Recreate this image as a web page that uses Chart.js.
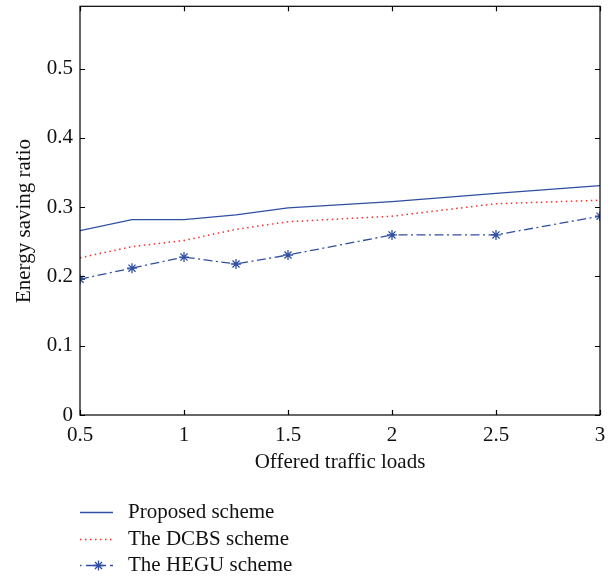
<!DOCTYPE html>
<html>
<head>
<meta charset="utf-8">
<script src="https://cdn.jsdelivr.net/npm/chart.js@4/dist/chart.umd.min.js"></script>
<style>
html,body{margin:0;padding:0;background:#fff;}
#wrap{width:616px;height:576px;}
</style>
</head>
<body>
<div id="wrap"><canvas id="c" width="616" height="576"></canvas></div>
<script>
const loads = [0.5, 0.75, 1, 1.25, 1.5, 2, 2.5, 3];
const proposed = [0.266, 0.282, 0.282, 0.289, 0.299, 0.308, 0.320, 0.331];
const dcbs = [0.227, 0.243, 0.252, 0.268, 0.279, 0.287, 0.305, 0.310];
const hegu = [0.196, 0.212, 0.228, 0.218, 0.231, 0.260, 0.260, 0.287];
const xTicks = [0.5, 1, 1.5, 2, 2.5, 3];
const xTickLabels = ['0.5', '1', '1.5', '2', '2.5', '3'];
const yTicks = [0, 0.1, 0.2, 0.3, 0.4, 0.5];
const yTickLabels = ['0', '0.1', '0.2', '0.3', '0.4', '0.5'];
const seriesNames = ['Proposed scheme', 'The DCBS scheme', 'The HEGU scheme'];
const xTitle = 'Offered traffic loads';
const yTitle = 'Energy saving ratio';

const FONT = "'Liberation Serif', 'Times New Roman', serif";
const BLUE = '#2f4fa3';
const RED = '#ff2b2b';

function pts(ys){ return loads.map((x,i)=>({x:x, y:ys[i]})); }

const styles = [
  {borderColor: BLUE, borderWidth: 1.3, borderDash: [], pointRadius: 0, pointStyle: false},
  {borderColor: RED, borderWidth: 1.5, borderDash: [1.5, 3.5], pointRadius: 0, pointStyle: false},
  {borderColor: BLUE, borderWidth: 1.3, borderDash: [9, 3.5, 2, 3.5], pointRadius: 5, pointStyle: 'star'}
];

const boxPlugin = {
  id: 'boxTicks',
  afterDraw(chart){
    const {ctx, chartArea: a, scales} = chart;
    ctx.save();
    ctx.strokeStyle = '#000';
    ctx.lineWidth = 1.2;
    ctx.strokeRect(a.left, a.top, a.right - a.left, a.bottom - a.top);
    const L = 5;
    ctx.beginPath();
    xTicks.forEach(v=>{
      const px = Math.round(scales.x.getPixelForValue(v)) + 0.5;
      ctx.moveTo(px, a.bottom); ctx.lineTo(px, a.bottom - L);
      ctx.moveTo(px, a.top); ctx.lineTo(px, a.top + L);
    });
    yTicks.forEach(v=>{
      const py = Math.round(scales.y.getPixelForValue(v)) + 0.5;
      ctx.moveTo(a.left, py); ctx.lineTo(a.left + L, py);
      ctx.moveTo(a.right, py); ctx.lineTo(a.right - L, py);
    });
    ctx.stroke();

    // y title
    ctx.save();
    ctx.fillStyle = '#111';
    ctx.font = "21px " + FONT;
    ctx.textAlign = 'center';
    ctx.textBaseline = 'middle';
    ctx.translate(24, 221);
    ctx.rotate(-Math.PI / 2);
    ctx.fillText(yTitle, 0, 0);
    ctx.restore();

    // legend
    const rows = [512, 539, 565];
    const x0 = 80, x1 = 113, tx = 128;
    chart.data.datasets.forEach((ds, i)=>{
      const y = rows[i] + 0.5;
      ctx.save();
      ctx.strokeStyle = ds.borderColor;
      ctx.lineWidth = ds.borderWidth;
      if (i === 2) {
        ctx.setLineDash([]);
        ctx.beginPath();
        ctx.moveTo(x0, y); ctx.lineTo(x0 + 1.5, y);
        ctx.moveTo(x0 + 6, y); ctx.lineTo(x0 + 26, y);
        ctx.moveTo(x0 + 30, y); ctx.lineTo(x1, y);
        ctx.stroke();
        Chart.helpers.drawPoint(ctx, {pointStyle: 'star', radius: 5, borderWidth: 1.3}, (x0 + x1) / 2 + 2, y);
      } else {
        ctx.setLineDash(ds.borderDash);
        ctx.beginPath();
        ctx.moveTo(x0, y); ctx.lineTo(x1, y);
        ctx.stroke();
      }
      ctx.restore();
      ctx.fillStyle = '#111';
      ctx.font = "21px " + FONT;
      ctx.textBaseline = 'middle';
      ctx.textAlign = 'left';
      ctx.fillText(seriesNames[i], tx, rows[i]);
    });
    ctx.restore();
  }
};

new Chart(document.getElementById('c'), {
  type: 'line',
  data: {
    datasets: [0,1,2].map(i=>Object.assign({
      label: seriesNames[i],
      data: pts([proposed, dcbs, hegu][i]),
      fill: false,
      tension: 0,
      pointBorderColor: BLUE,
      pointBackgroundColor: BLUE,
      pointBorderWidth: 1.3
    }, styles[i]))
  },
  options: {
    responsive: false,
    animation: false,
    events: [],
    layout: {padding: {left: 0, right: 16, top: 5, bottom: 101}},
    plugins: {legend: {display: false}, tooltip: {enabled: false}},
    scales: {
      x: {
        type: 'linear', min: 0.5, max: 3,
        afterBuildTicks: s => { s.ticks = xTicks.map(v=>({value: v})); },
        afterFit: s => { s.height = 60; s.paddingLeft = 0; s.paddingRight = 0; },
        grid: {display: false, drawTicks: false},
        border: {display: false},
        ticks: {
          color: '#111', padding: 8, maxRotation: 0, autoSkip: false,
          font: {family: FONT, size: 21},
          callback: (v) => { const k = xTicks.indexOf(v); return k >= 0 ? xTickLabels[k] : ''; }
        },
        title: {display: true, text: xTitle, color: '#111',
          font: {family: FONT, size: 21}, padding: {top: 0, bottom: 0}}
      },
      y: {
        type: 'linear', min: 0, max: 0.59,
        afterBuildTicks: s => { s.ticks = yTicks.map(v=>({value: v})); },
        afterFit: s => { s.width = 80; s.paddingTop = 0; s.paddingBottom = 0; },
        grid: {display: false, drawTicks: false},
        border: {display: false},
        ticks: {
          color: '#111', padding: 7, autoSkip: false,
          font: {family: FONT, size: 21},
          callback: (v) => { const k = yTicks.findIndex(t=>Math.abs(t - v) < 1e-9); return k >= 0 ? yTickLabels[k] : ''; }
        },
        title: {display: false}
      }
    }
  },
  plugins: [boxPlugin]
});
</script>
</body>
</html>
